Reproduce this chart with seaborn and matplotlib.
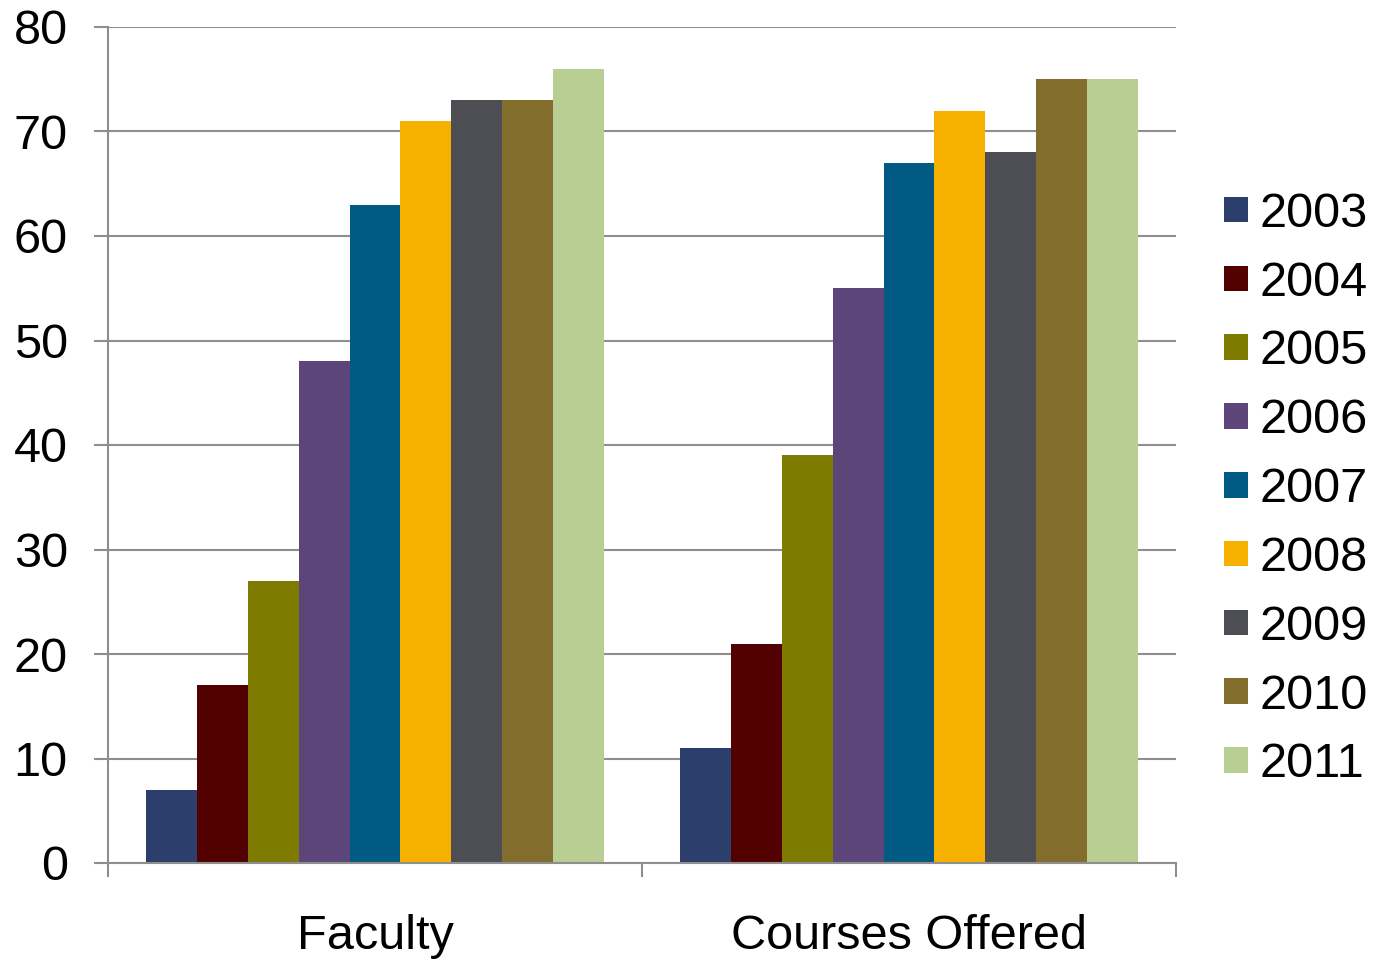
import matplotlib
matplotlib.use("Agg")
import matplotlib.pyplot as plt
import seaborn as sns
import pandas as pd
from matplotlib.ticker import FixedLocator

categories = ["Faculty", "Courses Offered"]
years = ["2003", "2004", "2005", "2006", "2007", "2008", "2009", "2010", "2011"]
faculty = [7, 17, 27, 48, 63, 71, 73, 73, 76]
courses = [11, 21, 39, 55, 67, 72, 68, 75, 75]
colors = ["#2C3E6B", "#520000", "#7F7A00", "#5C4579", "#005A84",
          "#F5B000", "#4D4E53", "#836D2C", "#B9CE93"]
y_ticks = [0, 10, 20, 30, 40, 50, 60, 70, 80]

rows = []
for cat, vals in zip(categories, [faculty, courses]):
    for yr, v in zip(years, vals):
        rows.append({"category": cat, "year": yr, "value": v})
df = pd.DataFrame(rows)

sns.set_theme(style="white")
plt.rcParams["font.family"] = ["Liberation Sans", "DejaVu Sans"]
plt.rcParams["text.color"] = "black"
plt.rcParams["xtick.labelcolor"] = "black"
plt.rcParams["ytick.labelcolor"] = "black"

grey = "#8E8E8E"
fig = plt.figure(figsize=(13.76, 9.6), dpi=100)
ax = fig.add_axes([108 / 1376, 1 - 863 / 960, (1176 - 108) / 1376, (863 - 27) / 960])

sns.barplot(data=df, x="category", y="value", hue="year", order=categories,
            hue_order=years, palette=colors, saturation=1, width=0.858,
            edgecolor="none", linewidth=0, ax=ax, zorder=3)

ax.set_xlim(-0.5, 1.5)
ax.set_ylim(0, 80)
ax.set_yticks(y_ticks)
ax.set_yticklabels([str(t) for t in y_ticks])
ax.yaxis.grid(True, color=grey, linewidth=1.5, zorder=0)
ax.set_axisbelow(True)
ax.set_xlabel("")
ax.set_ylabel("")

for s in ["top", "right"]:
    ax.spines[s].set_visible(False)
for s in ["left", "bottom"]:
    ax.spines[s].set_color(grey)
    ax.spines[s].set_linewidth(1.5)
    ax.spines[s].set_zorder(4)

ax.tick_params(axis="y", which="major", length=10, width=1.5, color=grey,
               labelsize=35, pad=19, left=True, direction="out",
               labelcolor="black")
ax.tick_params(axis="x", which="major", length=0, labelsize=35, pad=37,
               labelcolor="black")
ax.xaxis.set_minor_locator(FixedLocator([-0.5, 0.5, 1.5]))
ax.tick_params(axis="x", which="minor", length=10, width=1.5, color=grey,
               bottom=True, direction="out")

leg = ax.legend(loc="center left", bbox_to_anchor=(1224 / 1376, 0.49),
                bbox_transform=fig.transFigure, frameon=False, fontsize=35,
                handlelength=0.49, handleheight=0.43, handletextpad=0.23,
                labelspacing=0.49, borderpad=0, borderaxespad=0, title=None)
for t in leg.get_texts():
    t.set_color("black")

fig.savefig("out.png", dpi=100, facecolor="white")
